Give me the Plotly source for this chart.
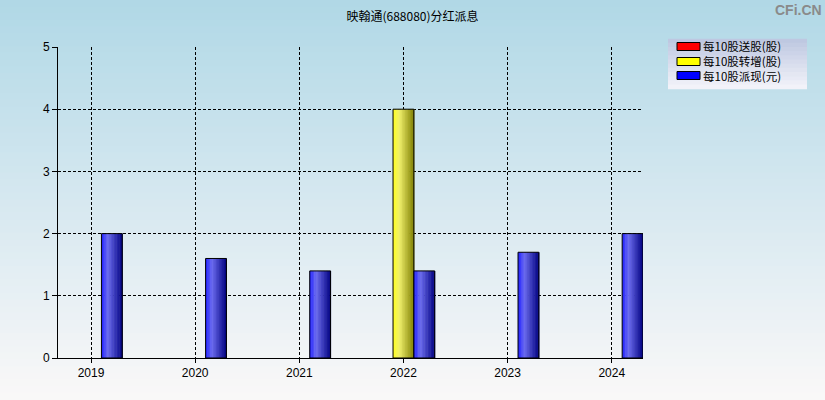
import plotly.graph_objects as go

years = [2019, 2020, 2021, 2022, 2023, 2024]
song = [0, 0, 0, 0, 0, 0]          # 每10股送股(股)
zhuan = [0, 0, 0, 4, 0, 0]         # 每10股转增(股)
pai = [2, 1.6, 1.4, 1.4, 1.7, 2]   # 每10股派现(元)
series_names = ["每10股送股(股)", "每10股转增(股)", "每10股派现(元)"]
series_colors = [(255, 0, 0), (255, 255, 0), (0, 0, 255)]
y_ticks = [0, 1, 2, 3, 4, 5]

W, H = 825, 400
ML, MR, MT, MB = 58, 182, 47, 42
PW, PH = W - ML - MR, H - MT - MB

BAR_W = 0.2
OFFSETS = [-0.3, -0.1, 0.1]
N_SLICES = 14


def lerp(a, b, t):
    return tuple(a[i] + (b[i] - a[i]) * t for i in range(3))


def rgb(c):
    return "rgb(%d,%d,%d)" % tuple(int(round(v)) for v in c)


def shade(c, t):
    white = (255, 255, 255)
    c0 = lerp(c, white, 0.12)
    c1 = tuple(v * 0.94 for v in lerp(c, white, 0.45))
    c2 = tuple(v * 0.5 for v in c)
    if t <= 0.3:
        r = lerp(c0, c1, t / 0.3)
    else:
        r = lerp(c1, c2, (t - 0.3) / 0.7)
    return rgb(r)


def px_x(x):
    return (x - ML) / PW


def px_y(y):
    return (H - MB - y) / PH


fig = go.Figure()

data_series = [song, zhuan, pai]
for s, vals in enumerate(data_series):
    yv = [v if v else None for v in vals]
    if all(v is None for v in yv):
        continue
    sw = BAR_W / N_SLICES
    for k in range(N_SLICES):
        t = (k + 0.5) / N_SLICES
        fig.add_trace(go.Bar(
            x=years, y=yv, width=sw * 1.35, offset=OFFSETS[s] + k * sw,
            marker=dict(color=shade(series_colors[s], t), line=dict(width=0)),
            showlegend=False, hoverinfo="skip", name=series_names[s]))
    fig.add_trace(go.Bar(
        x=years, y=yv, width=BAR_W, offset=OFFSETS[s],
        marker=dict(color="rgba(0,0,0,0)", line=dict(color="black", width=1)),
        showlegend=False, hoverinfo="skip", name=series_names[s]))

shapes = []
annotations = []

# background gradient
N = 60
top = (176, 216, 230)
mid = (214, 232, 240)
bot = (250, 248, 248)
for i in range(N):
    t0 = i / N
    t1 = (i + 1) / N
    tc = (t0 + t1) / 2
    col = lerp(top, mid, tc / 0.5) if tc < 0.5 else lerp(mid, bot, (tc - 0.5) / 0.5)
    ya = H * t0
    yb = H * t1
    shapes.append(dict(type="rect", xref="paper", yref="paper", layer="below",
                       x0=px_x(0), x1=px_x(W), y0=px_y(yb + 0.5), y1=px_y(ya - 0.5),
                       fillcolor=rgb(col), line=dict(width=0)))

# legend box (gradient)
LX0, LX1, LY0, LY1 = 668, 807, 39, 89
lt = (188, 198, 224)
lb = (244, 244, 250)
NL = 12
for i in range(NL):
    t0 = i / NL
    t1 = (i + 1) / NL
    col = lerp(lt, lb, (t0 + t1) / 2)
    ya = LY0 + (LY1 - LY0) * t0
    yb = LY0 + (LY1 - LY0) * t1
    shapes.append(dict(type="rect", xref="paper", yref="paper", layer="above",
                       x0=px_x(LX0), x1=px_x(LX1), y0=px_y(yb + 0.3), y1=px_y(ya - 0.3),
                       fillcolor=rgb(col), line=dict(width=0)))
item_y = [46.5, 61.5, 75.5]
for s in range(3):
    yc = item_y[s]
    shapes.append(dict(type="rect", xref="paper", yref="paper", layer="above",
                       x0=px_x(677), x1=px_x(700), y0=px_y(yc + 4), y1=px_y(yc - 4),
                       fillcolor=rgb(series_colors[s]), line=dict(color="black", width=1)))
annotations.append(dict(text="<br>".join(series_names), xref="paper", yref="paper",
                        x=px_x(702), y=px_y(61.5), xanchor="left", yanchor="middle",
                        align="left", showarrow=False, borderpad=0,
                        font=dict(family="Noto Sans CJK SC", size=11.5, color="black")))

annotations.append(dict(text="<b>CFi.CN</b>", xref="paper", yref="paper",
                        x=px_x(823), y=px_y(10), xanchor="right", yanchor="middle",
                        showarrow=False, borderpad=0,
                        font=dict(family="Liberation Sans Narrow, Liberation Sans", size=14,
                                  color="rgb(138,138,138)")))

fig.update_layout(
    width=W, height=H,
    margin=dict(l=ML, r=MR, t=MT, b=MB, autoexpand=False),
    paper_bgcolor="rgb(240,244,246)",
    plot_bgcolor="rgba(0,0,0,0)",
    barmode="overlay",
    showlegend=False,
    shapes=shapes,
    annotations=annotations,
    font=dict(family="Liberation Sans, Arial, sans-serif", size=12, color="black"),
    title=dict(text="映翰通(688080)分红派息", x=0.5, xref="container", xanchor="center",
               y=1 - 17 / H, yref="container", yanchor="middle",
               font=dict(family="Noto Sans CJK SC", size=12, color="black")),
)

fig.update_xaxes(range=[2018.683, 2024.30], tickvals=years, ticktext=[str(y) for y in years],
                 showgrid=True, gridcolor="black", griddash="3px,2px", gridwidth=1,
                 showline=True, linecolor="black", linewidth=1,
                 ticks="outside", ticklen=4, tickcolor="black", zeroline=False)
fig.update_yaxes(range=[0, 5], tickvals=y_ticks,
                 showgrid=True, gridcolor="black", griddash="3px,2px", gridwidth=1,
                 showline=True, linecolor="black", linewidth=1,
                 ticks="outside", ticklen=5, tickcolor="black", zeroline=False)

fig.write_html("out.html", config={"displayModeBar": False},
               post_script="document.body.style.margin='0px';document.body.style.overflow='hidden';")
